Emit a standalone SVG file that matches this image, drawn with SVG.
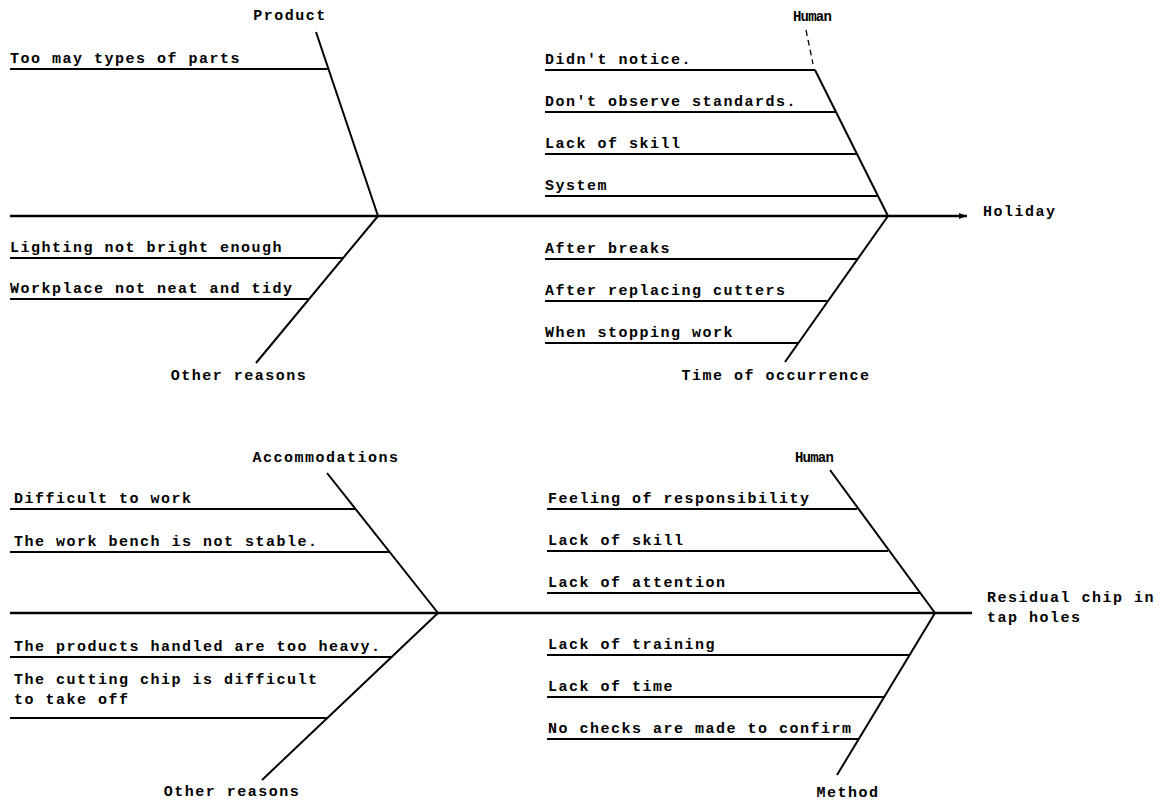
<svg xmlns="http://www.w3.org/2000/svg" width="1170" height="803" viewBox="0 0 1170 803">
<defs>
<marker id="arr" viewBox="0 0 8 6" refX="8" refY="3" markerWidth="8" markerHeight="6" markerUnits="userSpaceOnUse" orient="auto">
<path d="M0,0 L8,3 L0,6 Z" fill="#000"/>
</marker>
<style>
text{font-family:"Liberation Mono","DejaVu Sans Mono",monospace;font-size:15px;font-weight:bold;letter-spacing:1.5px;fill:#000}
.sm{font-size:14px;letter-spacing:-0.8px}
.c{text-anchor:middle}
line,polyline{stroke:#000;stroke-width:2;fill:none}
.sp{stroke-width:2.4}
.dash{stroke-width:1.3;stroke-dasharray:6 4}
</style>
</defs>
<rect width="1170" height="803" fill="#fff"/>

<g id="connectors">
<!-- top diagram -->
<line class="sp" x1="10" y1="216" x2="967" y2="216" marker-end="url(#arr)"/>
<line x1="316" y1="32" x2="378" y2="216"/>
<line x1="378" y1="216" x2="256" y2="363"/>
<line class="dash" x1="806" y1="30" x2="813" y2="64"/>
<line x1="815" y1="70" x2="888" y2="216"/>
<line x1="888" y1="216" x2="785" y2="362"/>
<!-- bottom diagram -->
<line class="sp" x1="10" y1="613" x2="972" y2="613"/>
<line x1="327" y1="473" x2="438" y2="613"/>
<line x1="438" y1="613" x2="262" y2="780"/>
<line x1="830" y1="470" x2="935" y2="613"/>
<line x1="935" y1="613" x2="837" y2="775"/>
</g>

<g id="top-product">
<text x="290" y="20" class="c">Product</text>
<text x="10" y="63">Too may types of parts</text>
<line x1="10" y1="69" x2="328" y2="69"/>
</g>

<g id="top-other">
<text x="239" y="380" class="c">Other reasons</text>
<text x="10" y="252">Lighting not bright enough</text>
<line x1="10" y1="258" x2="343" y2="258"/>
<text x="10" y="293">Workplace not neat and tidy</text>
<line x1="10" y1="299" x2="309" y2="299"/>
</g>

<g id="top-human">
<text x="812" y="21" class="c sm">Human</text>
<text x="545" y="64">Didn't notice.</text>
<line x1="545" y1="70" x2="815" y2="70"/>
<text x="545" y="106">Don't observe standards.</text>
<line x1="545" y1="112" x2="836" y2="112"/>
<text x="545" y="148">Lack of skill</text>
<line x1="545" y1="154" x2="857" y2="154"/>
<text x="545" y="190">System</text>
<line x1="545" y1="196" x2="878" y2="196"/>
</g>

<g id="top-time">
<text x="776" y="380" class="c">Time of occurrence</text>
<text x="545" y="253">After breaks</text>
<line x1="545" y1="259" x2="858" y2="259"/>
<text x="545" y="295">After replacing cutters</text>
<line x1="545" y1="301" x2="828" y2="301"/>
<text x="545" y="337">When stopping work</text>
<line x1="545" y1="343" x2="798" y2="343"/>
</g>

<g id="top-effect">
<text x="983" y="216">Holiday</text>
</g>

<g id="bottom-accommodations">
<text x="326" y="462" class="c">Accommodations</text>
<text x="14" y="503">Difficult to work</text>
<line x1="10" y1="509" x2="355" y2="509"/>
<text x="14" y="546">The work bench is not stable.</text>
<line x1="10" y1="552" x2="389" y2="552"/>
</g>

<g id="bottom-other">
<text x="232" y="796" class="c">Other reasons</text>
<text x="14" y="651">The products handled are too heavy.</text>
<line x1="10" y1="657" x2="392" y2="657"/>
<text x="14" y="684">The cutting chip is difficult</text>
<text x="14" y="704">to take off</text>
<line x1="10" y1="718" x2="327" y2="718"/>
</g>

<g id="bottom-human">
<text x="814" y="462" class="c sm">Human</text>
<text x="548" y="503">Feeling of responsibility</text>
<line x1="547" y1="509" x2="857" y2="509"/>
<text x="548" y="545">Lack of skill</text>
<line x1="547" y1="551" x2="888" y2="551"/>
<text x="548" y="587">Lack of attention</text>
<line x1="547" y1="593" x2="920" y2="593"/>
</g>

<g id="bottom-method">
<text x="848" y="797" class="c">Method</text>
<text x="548" y="649">Lack of training</text>
<line x1="547" y1="655" x2="910" y2="655"/>
<text x="548" y="691">Lack of time</text>
<line x1="547" y1="697" x2="884" y2="697"/>
<text x="548" y="733">No checks are made to confirm</text>
<line x1="547" y1="739" x2="859" y2="739"/>
</g>

<g id="bottom-effect">
<text x="987" y="602">Residual chip in</text>
<text x="987" y="622">tap holes</text>
</g>
</svg>
